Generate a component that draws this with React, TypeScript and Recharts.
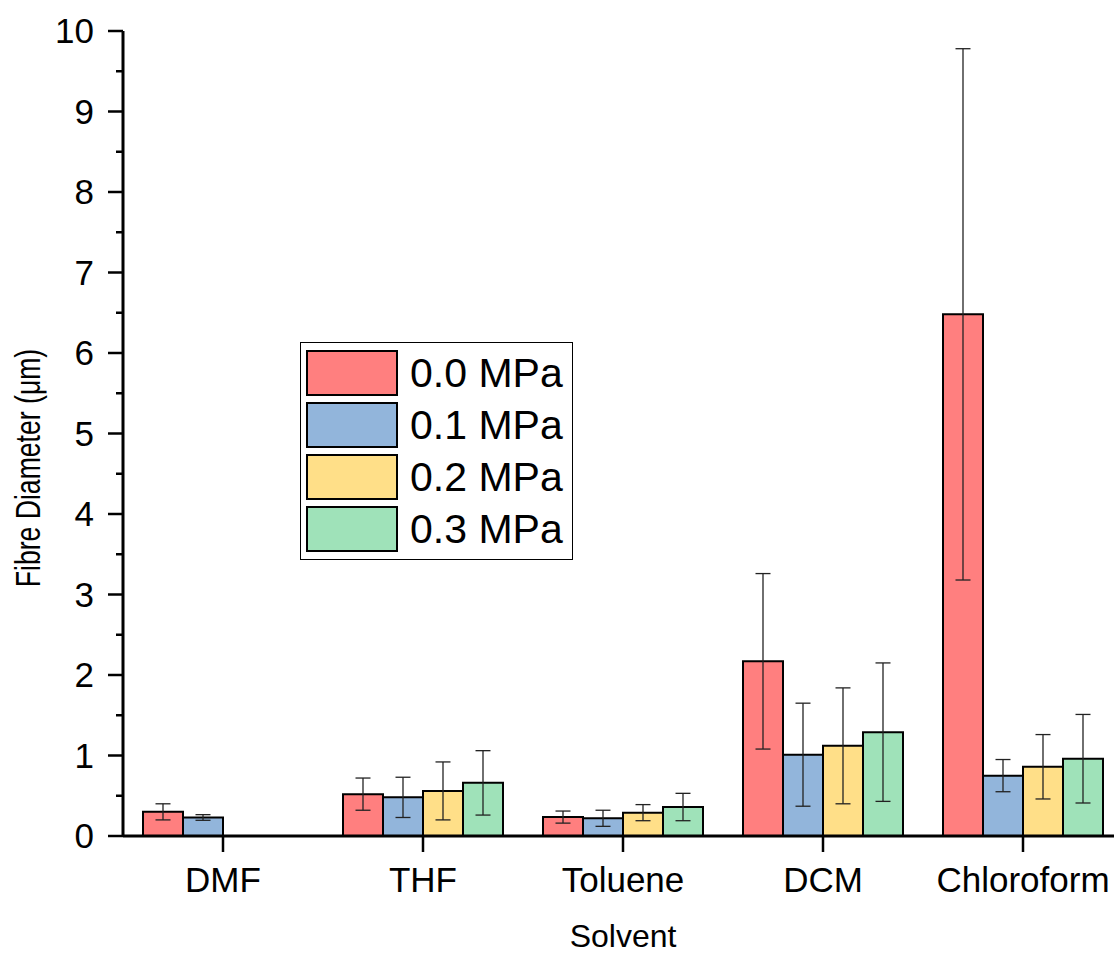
import React from 'react';
import { BarChart, Bar, XAxis, YAxis, ErrorBar, Legend, Label } from 'recharts';

const solvents = ['DMF', 'THF', 'Toluene', 'DCM', 'Chloroform'];
const mean00 = [0.30, 0.52, 0.235, 2.17, 6.48];
const err00 = [0.10, 0.20, 0.075, 1.09, 3.30];
const mean01 = [0.23, 0.48, 0.22, 1.01, 0.75];
const err01 = [0.035, 0.25, 0.10, 0.64, 0.20];
const mean02 = [null, 0.56, 0.29, 1.12, 0.86];
const err02 = [null, 0.36, 0.10, 0.72, 0.40];
const mean03 = [null, 0.66, 0.36, 1.29, 0.96];
const err03 = [null, 0.40, 0.17, 0.86, 0.55];

const seriesNames = ['0.0 MPa', '0.1 MPa', '0.2 MPa', '0.3 MPa'];
const colors = ['#FF7F7F', '#92B5DB', '#FFDF88', '#9FE2B9'];
const yTicks = [0, 0.5, 1, 1.5, 2, 2.5, 3, 3.5, 4, 4.5, 5, 5.5, 6, 6.5, 7, 7.5, 8, 8.5, 9, 9.5, 10];

const data = solvents.map((s, i) => ({
  name: s,
  m0: mean00[i], e0: err00[i],
  m1: mean01[i], e1: err01[i],
  m2: mean02[i], e2: err02[i],
  m3: mean03[i], e3: err03[i],
}));

const FONT = '"Liberation Sans", Arial, sans-serif';

const YTick = (props: any) => {
  const { x, y, payload } = props;
  const major = Number.isInteger(payload.value);
  return (
    <g>
      <line x1={x} x2={x - (major ? 15 : 7)} y1={y} y2={y} stroke="#000" strokeWidth={2.5} />
      {major && (
        <text x={x - 29} y={y} dy={12} textAnchor="end" fontSize={35} fill="#000" fontFamily={FONT}>
          {payload.value}
        </text>
      )}
    </g>
  );
};

const XTick = (props: any) => {
  const { x, y, payload } = props;
  return (
    <g>
      <line x1={x} x2={x} y1={y} y2={y + 16} stroke="#000" strokeWidth={2.5} />
      <text x={x} y={y + 56} textAnchor="middle" fontSize={35} fill="#000" fontFamily={FONT}>
        {payload.value}
      </text>
    </g>
  );
};

const LegendContent = (props: any) => {
  const { payload } = props;
  return (
    <div
      style={{
        border: '1px solid #000',
        background: '#fff',
        padding: '4px 6px 4px 5px',
        width: 260,
        boxSizing: 'content-box',
        fontFamily: FONT,
      }}
    >
      {(payload || []).map((p: any, i: number) => (
        <div key={i} style={{ display: 'flex', alignItems: 'center', height: 52 }}>
          <div
            style={{
              width: 92,
              height: 46,
              background: p.color,
              border: '2px solid #000',
              boxSizing: 'border-box',
              flexShrink: 0,
            }}
          />
          <span style={{ marginLeft: 12, fontSize: 41, lineHeight: '46px', color: '#000', whiteSpace: 'nowrap' }}>
            {p.value}
          </span>
        </div>
      ))}
    </div>
  );
};

export default function App() {
  return (
    <div
      style={{
        position: 'absolute',
        left: 0,
        top: 0,
        width: 1114,
        height: 954,
        overflow: 'hidden',
        background: '#fff',
        fontFamily: FONT,
      }}
    >
      <BarChart
        width={1130}
        height={954}
        data={data}
        margin={{ top: 31, right: 7, left: 0, bottom: 0 }}
        barCategoryGap="10%"
        barGap={0}
      >
        <XAxis
          dataKey="name"
          height={118}
          axisLine={{ stroke: '#000', strokeWidth: 3 }}
          tickLine={false}
          tickSize={0}
          tickMargin={0}
          tick={<XTick />}
          interval={0}
        >
          <Label
            content={() => (
              <text x={623} y={947} textAnchor="middle" fontSize={32} fill="#000" fontFamily={FONT}>
                Solvent
              </text>
            )}
          />
        </XAxis>
        <YAxis
          width={123}
          domain={[0, 10]}
          ticks={yTicks}
          interval={0}
          axisLine={{ stroke: '#000', strokeWidth: 3 }}
          tickLine={false}
          tickSize={0}
          tickMargin={0}
          tick={<YTick />}
        >
          <Label
            content={() => (
              <text
                transform="translate(40,468) rotate(-90) scale(0.76,1)"
                textAnchor="middle"
                fontSize={35}
                fill="#000"
                fontFamily={FONT}
              >
                Fibre Diameter (μm)
              </text>
            )}
          />
        </YAxis>
        <Legend
          layout="vertical"
          align="center"
          verticalAlign="middle"
          content={<LegendContent />}
          wrapperStyle={{ position: 'absolute', left: 300, top: 342, width: 'auto' }}
        />
        {['m0', 'm1', 'm2', 'm3'].map((k, i) => (
          <Bar
            key={k}
            dataKey={k}
            name={seriesNames[i]}
            fill={colors[i]}
            stroke="#000"
            strokeWidth={2}
            isAnimationActive={false}
          >
            <ErrorBar dataKey={'e' + i} width={7.5} stroke="#222" strokeWidth={1.3} direction="y" />
          </Bar>
        ))}
      </BarChart>
    </div>
  );
}
